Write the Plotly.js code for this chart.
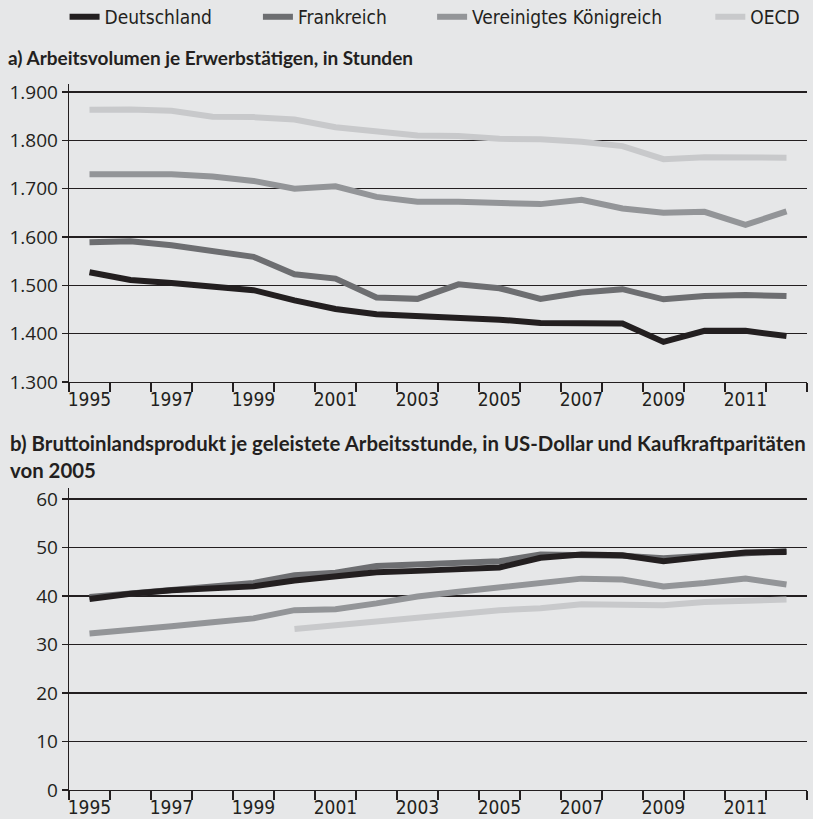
<!DOCTYPE html>
<html>
<head>
<meta charset="utf-8">
<script src="https://cdn.plot.ly/plotly-3.0.1.min.js"></script>
<style>
html,body{margin:0;padding:0;background:#e6e7e8;}
#chart{width:813px;height:819px;}
</style>
</head>
<body>
<div id="chart"></div>
<script>
const years = [1995,1996,1997,1998,1999,2000,2001,2002,2003,2004,2005,2006,2007,2008,2009,2010,2011,2012];
const tickYears = [1995,1997,1999,2001,2003,2005,2007,2009,2011];

// a) Arbeitsvolumen je Erwerbstätigen, in Stunden
const hoursDE = [1527,1511,1505,1498,1490,1469,1451,1440,1436,1435,1429,1422,1421,1421,1383,1406,1406,1395];
const hoursFR = [1589,1591,1583,1571,1559,1523,1514,1475,1472,1502,1494,1472,1485,1492,1471,1478,1480,1478];
const hoursUK = [1730,1730,1730,1725,1716,1700,1705,1683,1673,1673,1672,1668,1677,1659,1650,1652,1625,1653];
const hoursOECD = [1863,1864,1861,1849,1848,1843,1827,1818,1810,1809,1803,1802,1797,1788,1761,1765,1764,1764];

// b) BIP je geleistete Arbeitsstunde, USD KKP 2005
const gdpDE = [39.4,40.5,41.2,41.7,42.0,43.2,44.0,44.9,45.2,45.5,45.9,47.9,48.6,48.4,47.2,48.1,49.0,49.1];
const gdpFR = [39.8,40.5,41.3,42.0,42.7,44.3,44.8,46.2,46.5,46.7,47.2,48.6,48.6,48.3,47.8,48.3,49.0,49.3];
const gdpUK = [32.3,33.2,33.8,34.6,35.4,37.1,37.3,38.5,39.9,40.9,41.9,42.9,43.6,43.4,42.0,42.7,43.6,42.4];
const gdpOECD = [null,null,null,null,null,33.2,34.0,34.7,35.6,36.4,37.1,37.5,38.3,38.2,38.1,38.8,39.2,39.3];

const names = ['Deutschland','Frankreich','Vereinigtes Königreich','OECD'];
const colors = ['#231f20','#6d6e71','#939598','#c8c9cb'];
const legendIds = ['legend','legend2','legend3','legend4'];
const legendX = [-0.006, 0.256, 0.492, 0.869];

const topSeries = [hoursDE,hoursFR,hoursUK,hoursOECD];
const botSeries = [gdpDE,gdpFR,gdpUK,gdpOECD];

const traces = [];
for (let i = 3; i >= 0; i--) {
  traces.push({x: years, y: topSeries[i], type:'scatter', mode:'lines', name:names[i],
    line:{color:colors[i], width:6}, xaxis:'x', yaxis:'y', legend:legendIds[i], showlegend:true});
}
for (let i = 3; i >= 0; i--) {
  traces.push({x: years, y: botSeries[i], type:'scatter', mode:'lines', name:names[i],
    line:{color:colors[i], width:6}, xaxis:'x2', yaxis:'y2', showlegend:false, connectgaps:false});
}

const axisCol = '#231f20';
const tickFont = {family:'"Liberation Sans Narrow", "DejaVu Sans Condensed", "Roboto", sans-serif', size:19, color:'#231f20'};
const yFont = {family:'"Open Sans", "Liberation Sans", sans-serif', size:19, color:'#231f20'};
const legFont = {family:'"Liberation Sans Narrow", "DejaVu Sans Condensed", sans-serif', size:19, color:'#231f20'};

function xAxis(anchor){
  return {
    anchor: anchor, type:'linear', range:[1994.5, 2012.5],
    tickvals: tickYears, ticktext: tickYears.map(String), ticks:'', ticklen:0,
    showgrid:false, zeroline:false, showline:true, linecolor:axisCol, linewidth:1.3,
    tickfont: tickFont, ticklabelstandoff: 0,
    minor:{tick0:1994.5, dtick:1, ticks:'outside', ticklen:9, tickwidth:1.3, tickcolor:axisCol, showgrid:false},
    fixedrange:true
  };
}

const layout = {
  width:813, height:819,
  paper_bgcolor:'#e6e7e8', plot_bgcolor:'#e6e7e8',
  margin:{l:69, r:6, t:84, b:29, autoexpand:false},
  separators:',.',
  showlegend:true,
  xaxis: xAxis('y'),
  xaxis2: xAxis('y2'),
  yaxis:{domain:[0.5779,1], range:[1300,1916.5], tickvals:[1300,1400,1500,1600,1700,1800,1900],
    separatethousands:true, tickformat:',d',
    ticks:'outside', ticklen:6, tickwidth:1.3, tickcolor:axisCol,
    showgrid:true, gridcolor:axisCol, gridwidth:1.3, zeroline:false,
    showline:true, linecolor:axisCol, linewidth:1.3, tickfont:yFont, fixedrange:true},
  yaxis2:{domain:[0,0.4278], range:[0,62.3], tickvals:[0,10,20,30,40,50,60],
    ticks:'outside', ticklen:6, tickwidth:1.3, tickcolor:axisCol,
    showgrid:true, gridcolor:axisCol, gridwidth:1.3, zeroline:false,
    showline:true, linecolor:axisCol, linewidth:1.3, tickfont:yFont, fixedrange:true},
  annotations:[
    {text:'<b>a) Arbeitsvolumen je Erwerbstätigen, in Stunden</b>', xref:'paper', yref:'paper',
      x:-0.085, y:1.038, xanchor:'left', yanchor:'middle', showarrow:false, align:'left',
      font:{family:'Lato, "Open Sans", sans-serif', size:19, color:'#231f20'}},
    {text:'<b>b) Bruttoinlandsprodukt je geleistete Arbeitsstunde, in US-Dollar und Kaufkraftparitäten<br>von 2005</b>',
      xref:'paper', yref:'paper', x:-0.082, y:0.512, xanchor:'left', yanchor:'top', showarrow:false, align:'left',
      font:{family:'Lato, "Open Sans", sans-serif', size:20.4, color:'#231f20'}}
  ]
};
legendIds.forEach((id, i) => {
  layout[id] = {orientation:'h', x:legendX[i], xanchor:'left', y:1.095, yanchor:'middle',
    font:legFont, bgcolor:'rgba(0,0,0,0)'};
});

Plotly.newPlot('chart', traces, layout, {displayModeBar:false, staticPlot:true});
</script>
</body>
</html>
